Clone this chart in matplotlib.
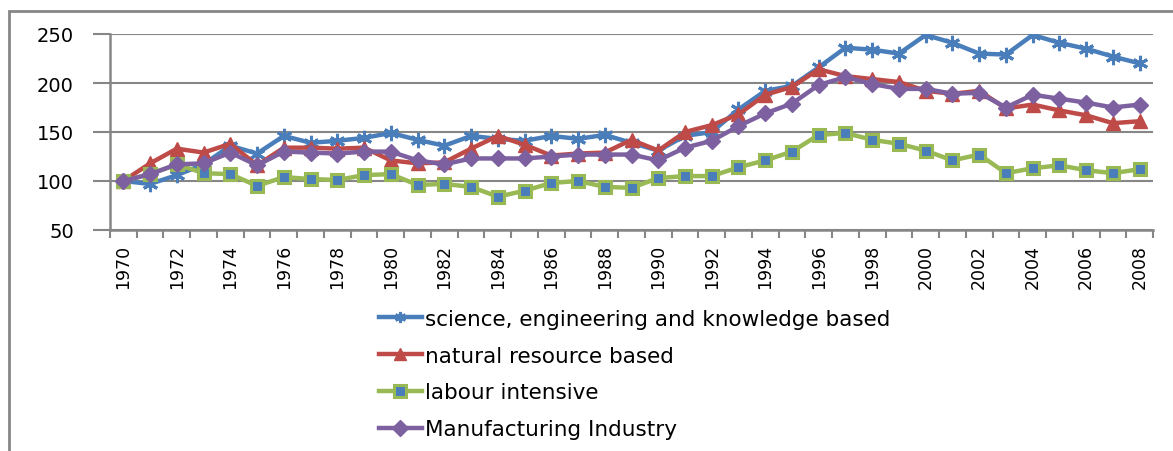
import numpy as np
import matplotlib
matplotlib.use("Agg")
from matplotlib import pyplot as plt
from matplotlib.patches import Rectangle

years = list(range(1970, 2009))

science = [100, 97, 106, 117, 136, 128, 146, 139, 141, 144, 149, 142, 136,
           146, 143, 141, 146, 143, 147, 139, 131, 146, 150, 173, 192, 197,
           216, 236, 234, 230, 249, 241, 230, 229, 249, 241, 235, 227, 220]
natural = [100, 118, 133, 129, 138, 116, 134, 134, 133, 134, 121, 118, 119,
           133, 146, 137, 126, 128, 129, 142, 131, 150, 157, 168, 188, 196,
           214, 207, 204, 201, 192, 189, 192, 174, 178, 172, 167, 159, 161]
labour = [100, 107, 117, 108, 107, 95, 104, 102, 101, 106, 107, 96, 97,
          94, 84, 90, 98, 100, 94, 93, 103, 105, 105, 114, 121, 130,
          147, 149, 142, 138, 131, 121, 127, 108, 113, 116, 111, 108, 112]
manufacturing = [100, 107, 117, 118, 129, 116, 130, 129, 128, 130, 130, 121, 117,
                 123, 123, 123, 125, 127, 127, 127, 121, 134, 141, 156, 169, 179,
                 198, 206, 199, 194, 194, 189, 190, 175, 188, 184, 180, 175, 178]

series_names = ["science, engineering and knowledge based",
                "natural resource based",
                "labour intensive",
                "Manufacturing Industry"]

y_ticks = [50, 100, 150, 200, 250]


def main():
    fig = plt.figure(figsize=(11.73, 4.52), dpi=100)
    ax = fig.add_axes([110 / 1173, 1 - 231 / 452, 1043 / 1173, 196 / 452])

    x = np.arange(len(years))
    grid_c = "#868686"

    ax.plot(x, science, color="#4A7EBB", lw=3.2, marker=(6, 2, 0), ms=11,
            mew=2.2, mec="#4A7EBB", label=series_names[0], zorder=3)
    ax.plot(x, natural, color="#BE4B48", lw=3.2, marker="^", ms=10,
            mec="#BE4B48", label=series_names[1], zorder=3)
    ax.plot(x, labour, color="#98B954", lw=3.2, marker="s", ms=9,
            mfc="#4A7EBB", mec="#98B954", mew=2.2, label=series_names[2], zorder=3)
    ax.plot(x, manufacturing, color="#7D60A0", lw=3.2, marker="D", ms=8,
            mec="#7D60A0", label=series_names[3], zorder=4)

    ax.set_xlim(-0.5, len(years) - 0.5)
    ax.set_ylim(50, 250)
    ax.set_yticks(y_ticks)
    ax.set_yticklabels([str(v) for v in y_ticks], fontsize=14)
    ax.yaxis.grid(True, color=grid_c, lw=1.5)
    ax.set_axisbelow(True)

    # tick marks between categories, labels on every other year
    ax.set_xticks(np.arange(-0.5, len(years), 1.0))
    ax.set_xticklabels([])
    ax.set_xticks(x[::2], minor=True)
    ax.set_xticklabels([str(y) for y in years[::2]], minor=True,
                       rotation=90, fontsize=12.5)
    ax.tick_params(axis="x", which="major", length=6, width=1.5, color=grid_c)
    ax.tick_params(axis="x", which="minor", length=0, pad=10)
    ax.tick_params(axis="y", length=12, width=1.5, color=grid_c, pad=14)

    for s in ["top", "right"]:
        ax.spines[s].set_visible(False)
    for s in ["left", "bottom"]:
        ax.spines[s].set_color(grid_c)
        ax.spines[s].set_linewidth(1.8)

    leg = fig.legend(loc="upper left", bbox_to_anchor=(368 / 1173, 1 - 299 / 452),
                     frameon=False, fontsize=15.5, handlelength=2.0,
                     handletextpad=0.15, labelspacing=0.78, borderpad=0)
    for h in leg.legend_handles:
        h.set_markersize(8)

    # outer chart frame
    fig.patches.append(Rectangle((9 / 1173, -0.1), 1.2, 1 - 12 / 452 + 0.1,
                                 transform=fig.transFigure, fill=False,
                                 edgecolor=grid_c, lw=2))

    fig.savefig("out.png", dpi=100)


if __name__ == "__main__":
    main()
